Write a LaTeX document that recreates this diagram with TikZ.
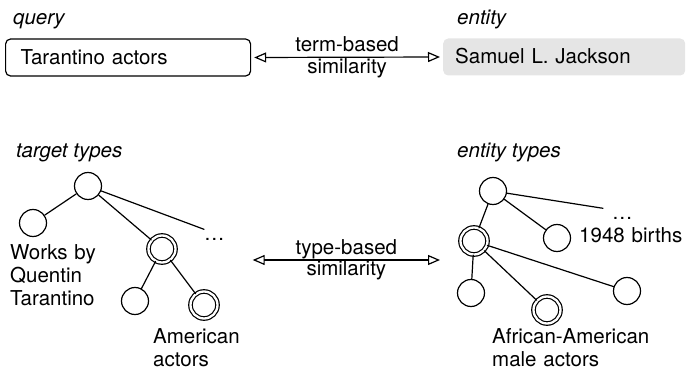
\documentclass[tikz,border=0pt]{standalone}
\usepackage{fontspec}
\setmainfont{TeX Gyre Heros}
\usetikzlibrary{arrows.meta}

\newcommand{\diagfont}{\fontsize{20.5}{23}\selectfont}

\begin{document}
\begin{tikzpicture}[x=1pt,y=-1pt,every path/.style={line join=round,line cap=round},
    every node/.style={font=\diagfont},
    tag/.style={anchor=base west,inner sep=0pt,font=\diagfont\itshape},
    caption/.style={anchor=base west,inner sep=0pt,text width=200pt,align=left},
    typenode/.style={circle,draw,line width=1.2pt,minimum size=27pt,inner sep=0pt},
    matchnode/.style={typenode,double,double distance=2.3pt},
    dotsnode/.style={anchor=base west,inner sep=0pt,text height=11.5pt},
    treeedge/.style={line width=1.2pt},
    sim/.style={{Triangle[open,length=12pt,width=10pt]}-{Triangle[open,length=12pt,width=10pt]},line width=1.2pt},
    simabove/.style={midway,anchor=base,inner sep=0pt,yshift=5.5pt},
    simbelow/.style={midway,anchor=base,inner sep=0pt,yshift=-16pt}]
    \useasboundingbox (0,0) rectangle (686,371);
    % top row
    \node[tag] (querytag) at (13,25) {query};
    \node[tag] (entitytag) at (457,25) {entity};
    \node[draw,line width=1.2pt,rounded corners=5pt,anchor=west,text width=215pt,inner xsep=15pt,
      minimum height=37pt,text height=14pt,text depth=0pt,align=left] (query) at (5,57.5) {Tarantino actors};
    \node[fill=gray!20,rounded corners=5pt,anchor=west,text width=218pt,inner xsep=12pt,
      minimum height=37pt,text height=14pt,text depth=0pt,align=left] (entity) at (443,57) {Samuel L. Jackson};
    \draw[sim,shorten <=3pt,shorten >=3pt] (query.east) -- node[simabove] {term-based} node[simbelow] {similarity} (entity.west);
    % target types
    \node[tag] (targettag) at (16,158) {target types};
    \node[typenode] (troot) at (88,186) {};
    \node[typenode] (tworks) at (33,223) {};
    \node[matchnode] (tamer) at (162,249) {};
    \node[typenode] (tleaf) at (135,301) {};
    \node[matchnode] (tact) at (204,305) {};
    \node[dotsnode] (tdots) at (204,241) {…};
    \draw[treeedge] (troot) -- (tworks);
    \draw[treeedge] (troot) -- (tamer);
    \draw[treeedge] (troot) -- (tdots.north west);
    \draw[treeedge] (tamer) -- (tleaf);
    \draw[treeedge] (tamer) -- (tact);
    \node[caption] (tworkslabel) at (10,260) {Works by\\Quentin\\Tarantino};
    \node[caption] (tactlabel) at (153,344) {American\\actors};
    % similarity between the two type sets
    \coordinate (tsim) at (252.7,260);
    \coordinate (esim) at (440,260);
    \draw[sim] (tsim) -- node[simabove] {type-based} node[simbelow] {similarity} (esim);
    % entity types
    \node[tag] (etypetag) at (457,158) {entity types};
    \node[typenode] (eroot) at (493,191) {};
    \node[matchnode] (eafam) at (474,241) {};
    \node[typenode] (ebirth) at (557,238) {};
    \node[typenode] (eleaf) at (471,293) {};
    \node[matchnode] (eafm) at (547,310) {};
    \node[typenode] (eright) at (627,291) {};
    \node[dotsnode] (edots) at (612,220) {…};
    \draw[treeedge] (eroot) -- (eafam);
    \draw[treeedge] (eroot) -- (ebirth);
    \draw[treeedge] (eroot) -- ([xshift=-9pt]edots.north west);
    \draw[treeedge] (eafam) -- (eleaf);
    \draw[treeedge] (eafam) -- (eafm);
    \draw[treeedge] (eafam) -- (eright);
    \node[caption] (ebirthlabel) at (579,243) {1948 births};
    \node[caption] (eafmlabel) at (492,344) {African-American\\male actors};
  \end{tikzpicture}
\end{document}
